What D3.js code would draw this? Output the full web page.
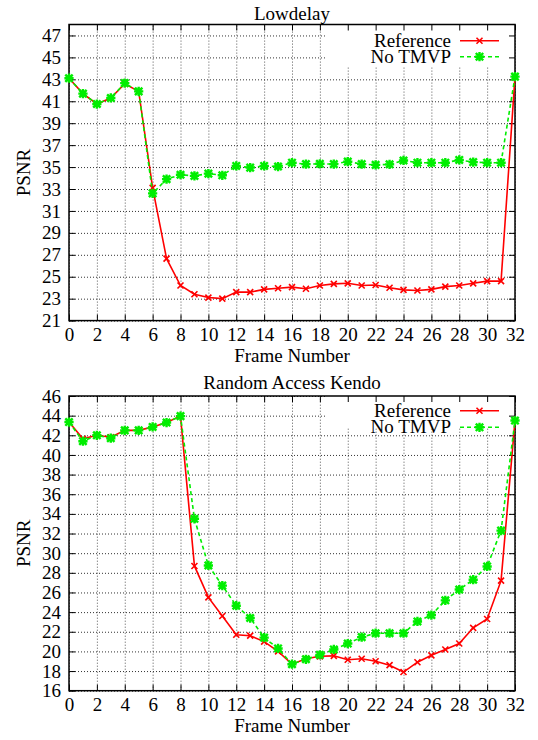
<!DOCTYPE html>
<html>
<head>
<meta charset="utf-8">
<script src="https://cdnjs.cloudflare.com/ajax/libs/d3/7.8.5/d3.min.js"></script>
<style>
body { margin: 0; background: #fff; }
</style>
</head>
<body>
<script>
// frame numbers (x categories)
var frames = [0,1,2,3,4,5,6,7,8,9,10,11,12,13,14,15,16,17,18,19,20,21,22,23,24,25,26,27,28,29,30,31,32];
var xTicks = [0,2,4,6,8,10,12,14,16,18,20,22,24,26,28,30,32];

// Lowdelay
var ldReference = [43.1,41.7,40.75,41.3,42.6,41.9,33.1,26.65,24.2,23.4,23.1,23.0,23.6,23.6,23.85,23.95,24.05,
                   23.9,24.2,24.35,24.4,24.2,24.25,24.0,23.8,23.75,23.85,24.1,24.2,24.4,24.6,24.6,43.25];
var ldNoTmvp = [43.1,41.7,40.75,41.3,42.65,41.9,32.6,33.9,34.3,34.2,34.4,34.25,35.1,34.95,35.1,35.05,35.4,
                35.27,35.3,35.27,35.5,35.27,35.2,35.25,35.6,35.4,35.4,35.4,35.65,35.45,35.4,35.4,43.25];
var ldYTicks = [21,23,25,27,29,31,33,35,37,39,41,43,45,47];

// Random Access Kendo
var raReference = [43.35,41.65,42.0,41.8,42.5,42.5,42.85,43.3,43.95,28.7,25.5,23.6,21.7,21.6,21.0,20.0,18.7,
                   19.25,19.5,19.55,19.15,19.25,19.0,18.6,17.9,18.9,19.6,20.2,20.8,22.4,23.3,27.2,43.5];
var raNoTmvp = [43.35,41.4,42.0,41.7,42.5,42.5,42.85,43.3,43.95,33.5,28.75,26.7,24.65,23.4,21.4,20.3,18.7,
                19.2,19.65,20.2,20.8,21.45,21.85,21.85,21.85,23.05,23.7,25.2,26.3,27.3,28.65,32.3,43.5];
var raYTicks = [16,18,20,22,24,26,28,30,32,34,36,38,40,42,44,46];

var seriesNames = ["Reference", "No TMVP"];
var seriesColors = ["#ff0000", "#00ee00"];

var w = 538;
var h = 740;
var fs = 19;
var font = "Liberation Serif";

var svg = d3.select("body")
            .append("svg")
            .attr("width", w)
            .attr("height", h)
            .attr("font-family", font);

function markerPath(kind, s) {
  var p = "M" + (-s) + "," + (-s) + "L" + s + "," + s + "M" + (-s) + "," + s + "L" + s + "," + (-s);
  if (kind === 1) {
    var t = s * 1.25;
    p += "M" + (-t) + ",0L" + t + ",0M0," + (-t) + "L0," + t;
  }
  return p;
}

function addText(g, txt, xPos, yPos, anchor) {
  return g.append("text")
    .attr("x", xPos)
    .attr("y", yPos)
    .attr("text-anchor", anchor)
    .attr("font-size", fs)
    .attr("font-family", font)
    .text(txt);
}

function drawPanel(opt) {
  var x = d3.scaleLinear().domain([0, 32]).range([opt.left, opt.right]);
  var y = d3.scaleLinear().domain(opt.yDomain).range([opt.bottom, opt.top]);
  var g = svg.append("g");
  var ph = opt.bottom - opt.top;
  var pw = opt.right - opt.left;

  // grid
  g.append("g")
    .attr("transform", "translate(0," + opt.bottom + ")")
    .call(d3.axisBottom(x).tickValues(xTicks).tickSize(-ph).tickFormat(""))
    .call(function(s) { s.select(".domain").remove(); })
    .selectAll("line")
    .attr("class", "grid")
    .attr("stroke", "#555")
    .attr("stroke-dasharray", "1,2");
  g.append("g")
    .attr("transform", "translate(" + opt.left + ",0)")
    .call(d3.axisLeft(y).tickValues(opt.yTicks).tickSize(-pw).tickFormat(""))
    .call(function(s) { s.select(".domain").remove(); })
    .selectAll("line")
    .attr("class", "grid")
    .attr("stroke", "#333")
    .attr("stroke-dasharray", "1,2");

  // opaque key area
  g.append("rect")
    .attr("x", opt.keyLeft)
    .attr("y", opt.top)
    .attr("width", opt.right - opt.keyLeft)
    .attr("height", opt.keyBottom - opt.top)
    .attr("fill", "#fff");

  // axes with ticks on all sides
  var axB = g.append("g")
    .attr("transform", "translate(0," + opt.bottom + ")")
    .call(d3.axisBottom(x).tickValues(xTicks).tickSizeInner(-6).tickSizeOuter(0).tickPadding(7));
  var axL = g.append("g")
    .attr("transform", "translate(" + opt.left + ",0)")
    .call(d3.axisLeft(y).tickValues(opt.yTicks).tickSizeInner(-6).tickSizeOuter(0).tickPadding(8));
  g.append("g")
    .attr("transform", "translate(0," + opt.top + ")")
    .call(d3.axisTop(x).tickValues(xTicks).tickSizeInner(-6).tickSizeOuter(0).tickFormat(""));
  g.append("g")
    .attr("transform", "translate(" + opt.right + ",0)")
    .call(d3.axisRight(y).tickValues(opt.yTicks).tickSizeInner(-6).tickSizeOuter(0).tickFormat(""));
  g.selectAll(".domain").remove();
  g.selectAll(".tick line").filter(function() { return this.getAttribute("class") !== "grid"; })
    .attr("stroke", "#000").attr("stroke-width", 1);
  [axB, axL].forEach(function(a) {
    a.attr("font-size", fs).attr("font-family", font);
    a.selectAll("text").attr("fill", "#000");
  });

  g.append("rect")
    .attr("x", opt.left)
    .attr("y", opt.top)
    .attr("width", pw)
    .attr("height", ph)
    .attr("fill", "none")
    .attr("stroke", "#000")
    .attr("stroke-width", 1.5);

  // title and labels
  addText(g, opt.title, (opt.left + opt.right) / 2, opt.titleY, "middle");
  addText(g, "Frame Number", (opt.left + opt.right) / 2, opt.bottom + 41, "middle");
  addText(g, "PSNR", 0, 0, "middle")
    .attr("transform", "translate(30," + ((opt.top + opt.bottom) / 2) + ") rotate(-90)");

  // series
  var series = [opt.ref, opt.noTmvp];
  series.forEach(function(vals, i) {
    var pts = frames.map(function(f, k) { return [x(f), y(vals[k])]; });
    g.append("path")
      .attr("d", d3.line()(pts))
      .attr("fill", "none")
      .attr("stroke", seriesColors[i])
      .attr("stroke-width", 1.6)
      .attr("stroke-dasharray", i === 1 ? "4,3" : null);
    g.selectAll(".pt" + i)
      .data(pts)
      .enter()
      .append("path")
      .attr("transform", function(d) { return "translate(" + d[0] + "," + d[1] + ")"; })
      .attr("d", markerPath(i, i === 1 ? 3.7 : 3))
      .attr("stroke", seriesColors[i])
      .attr("stroke-width", i === 1 ? 2.4 : 1.6)
      .attr("fill", "none");
  });

  // legend
  seriesNames.forEach(function(name, i) {
    var by = opt.top + opt.keyRows[i];
    addText(g, name, 451, by, "end");
    g.append("line")
      .attr("x1", 460).attr("x2", 499)
      .attr("y1", by - 6).attr("y2", by - 6)
      .attr("stroke", seriesColors[i])
      .attr("stroke-width", 1.6)
      .attr("stroke-dasharray", i === 1 ? "4,3" : null);
    g.append("path")
      .attr("transform", "translate(479.5," + (by - 6) + ")")
      .attr("d", markerPath(i, i === 1 ? 3.7 : 3))
      .attr("stroke", seriesColors[i])
      .attr("stroke-width", i === 1 ? 2.4 : 1.6)
      .attr("fill", "none");
  });
}

drawPanel({
  title: "Lowdelay", titleY: 20,
  left: 69, right: 515, top: 24.5, bottom: 320.6,
  yDomain: [21, 48], yTicks: ldYTicks,
  ref: ldReference, noTmvp: ldNoTmvp,
  keyLeft: 326, keyBottom: 67, keyRows: [22.2, 38.2]
});

drawPanel({
  title: "Random Access Kendo", titleY: 389,
  left: 69, right: 515, top: 396, bottom: 690.7,
  yDomain: [16, 46], yTicks: raYTicks,
  ref: raReference, noTmvp: raNoTmvp,
  keyLeft: 326, keyBottom: 428, keyRows: [20.7, 37.3]
});
</script>
</body>
</html>
